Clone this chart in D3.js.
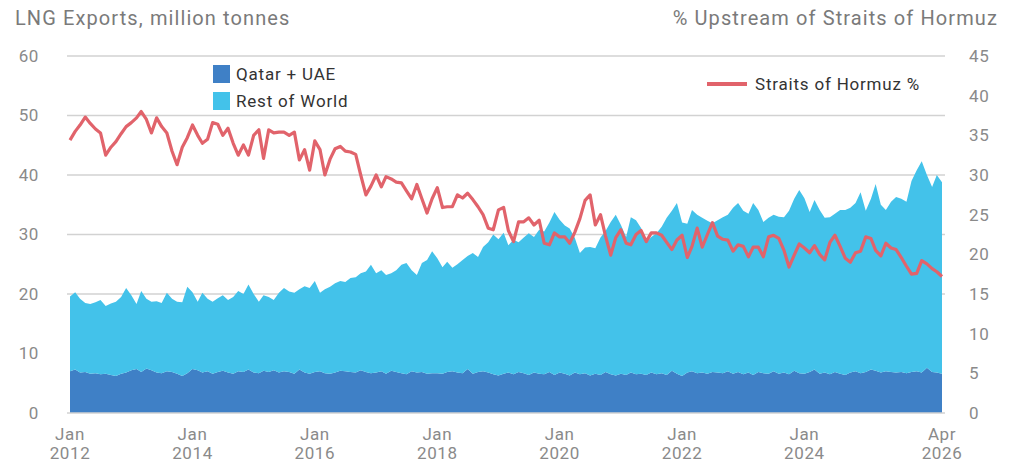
<!DOCTYPE html>
<html>
<head>
<meta charset="utf-8">
<script src="https://cdn.jsdelivr.net/npm/d3@7"></script>
<style>
  body { margin: 0; background: #fff; }
  svg { display: block; font-family: Roboto, "Noto Sans", sans-serif; }
  .title { fill: #7a7a7a; font-size: 20px; letter-spacing: 1.1px; }
  .tick-label { fill: #8a8a8a; font-size: 17px; letter-spacing: 0.6px; }
  .legend text { fill: #333; font-size: 17px; letter-spacing: 0.8px; }
</style>
</head>
<body>
<div id="chart"></div>
<script>
// monthly, Jan 2012 .. Apr 2026
const qatarUae = [
  7.0, 7.3, 6.8, 6.9, 6.6, 6.7, 6.5, 6.6, 6.4, 6.2, 6.6, 6.8,
  7.2, 7.4, 6.9, 7.5, 7.2, 6.8, 6.7, 7.0, 6.9, 6.6, 6.2, 6.7,
  7.4, 7.2, 6.8, 7.0, 6.6, 6.9, 7.1, 6.8, 6.6, 7.0, 6.9, 7.3,
  6.8, 6.7, 7.1, 6.9, 7.2, 6.8, 7.0, 6.9, 6.6, 7.3, 6.8, 6.6,
  6.9, 7.0, 6.7, 6.6, 6.8, 7.1, 7.0, 6.9, 6.8, 7.2, 6.9, 6.7,
  6.8, 7.0, 6.6, 7.1, 6.9, 6.7, 6.5, 7.0, 6.8, 6.9, 6.6, 6.7,
  6.7, 6.6, 6.9, 7.0, 6.8, 6.7, 7.4, 6.6, 6.9, 7.0, 6.8, 6.5,
  6.3, 6.6, 6.8, 6.5, 6.9, 6.7, 6.4, 6.8, 6.6, 6.5, 6.9, 6.4,
  6.8, 6.6, 6.3, 6.8, 6.5, 6.7, 6.3, 6.6, 6.4, 6.9, 6.5, 6.3,
  6.6, 6.4, 6.8, 6.5, 6.6, 6.4, 6.8, 6.5, 6.7, 6.4, 7.1, 6.6,
  6.2, 6.8, 7.0, 6.7, 6.8, 6.6, 6.9, 6.8, 6.7, 7.0, 6.6, 6.9,
  6.5, 6.8, 6.4, 6.9, 6.7, 6.6, 7.0, 6.6, 6.8, 6.5, 7.1, 6.7,
  6.6, 6.9, 7.3, 6.6, 6.8, 6.5, 6.9, 6.6, 6.4, 6.8, 7.0, 6.7,
  6.9, 7.3, 7.1, 6.8, 7.0, 6.9, 6.8, 6.9, 6.7, 6.9, 7.0, 6.8,
  7.6, 6.9, 6.8, 6.6,
];

const restOfWorld = [
  12.6, 13.0, 12.4, 11.6, 11.7, 11.9, 12.5, 11.4, 12.0, 12.5, 12.9, 14.2,
  12.6, 10.9, 13.6, 11.7, 11.5, 12.0, 11.8, 13.2, 12.3, 12.1, 12.4, 14.5,
  12.9, 11.5, 13.4, 12.2, 12.1, 12.4, 12.7, 12.2, 12.9, 13.5, 13.1, 14.3,
  13.2, 12.0, 12.7, 12.6, 11.8, 13.4, 14.0, 13.5, 13.6, 13.5, 14.5, 14.4,
  15.3, 13.2, 14.1, 14.6, 15.0, 15.1, 15.0, 15.8, 16.0, 16.3, 16.9, 18.2,
  16.7, 17.0, 16.6, 16.4, 17.1, 18.2, 18.7, 17.0, 16.4, 18.3, 19.1, 20.5,
  19.3, 17.9, 18.5, 17.4, 18.2, 19.0, 19.0, 20.3, 19.3, 20.9, 21.9, 23.5,
  22.9, 23.7, 21.4, 22.6, 21.8, 22.8, 23.8, 22.8, 24.2, 24.0, 25.1, 27.4,
  25.7, 24.9, 24.7, 22.6, 20.4, 21.1, 21.6, 21.1, 23.1, 23.7, 25.6, 27.0,
  25.0, 23.2, 26.1, 25.9, 24.5, 22.2, 22.8, 23.7, 24.6, 26.4, 26.9, 28.7,
  25.8, 25.0, 27.1, 26.6, 26.0, 25.7, 25.0, 25.6, 26.2, 26.3, 27.9, 28.4,
  27.5, 26.7, 28.9, 27.2, 25.4, 26.2, 26.3, 26.4, 26.1, 27.5, 28.9, 30.8,
  29.5, 26.9, 28.5, 27.5, 26.0, 26.4, 26.6, 27.5, 27.7, 27.7, 28.3, 30.4,
  27.1, 28.7, 31.4, 28.2, 27.1, 28.6, 29.5, 29.1, 28.8, 32.1, 33.8, 35.5,
  32.4, 31.1, 33.2, 32.2,
];

// % upstream of the Straits of Hormuz (right axis)
const hormuzShare = [
  34.4, 35.5, 36.3, 37.3, 36.5, 35.8, 35.3, 32.5, 33.5, 34.2, 35.2, 36.1,
  36.6, 37.2, 38.0, 37.0, 35.3, 37.2, 36.1, 35.3, 33.0, 31.3, 33.5, 34.7,
  36.3, 35.0, 34.0, 34.5, 36.6, 36.4, 35.0, 35.9, 34.0, 32.5, 33.8, 32.5,
  35.0, 35.7, 32.1, 35.7, 35.3, 35.4, 35.4, 35.0, 35.4, 31.9, 33.2, 30.6,
  34.3, 33.2, 30.0, 32.0, 33.3, 33.6, 33.0, 32.9, 32.6, 30.0, 27.5, 28.6,
  30.0, 28.5, 29.8, 29.5, 29.1, 29.0, 28.0, 27.0, 28.8, 27.0, 25.2, 27.0,
  28.4, 25.9, 26.0, 26.0, 27.5, 27.1, 27.7, 26.9, 26.0, 25.0, 23.3, 23.1,
  25.6, 25.9, 23.0, 21.6, 24.1, 24.1, 24.6, 23.7, 24.3, 21.4, 21.2, 22.7,
  22.2, 22.2, 21.4, 22.8, 24.5, 26.8, 27.5, 23.7, 25.0, 22.3, 19.9, 22.1,
  23.1, 21.4, 21.2, 22.5, 23.0, 21.6, 22.7, 22.7, 22.4, 21.5, 20.6, 21.8,
  22.4, 19.6, 21.0, 23.3, 20.9, 22.5, 24.0, 22.3, 21.9, 21.8, 20.4, 21.2,
  21.0, 19.7, 20.9, 20.9, 19.7, 22.2, 22.4, 22.0, 20.5, 18.4, 19.9, 21.3,
  20.8, 20.2, 21.1, 20.0, 19.3, 21.5, 22.4, 21.0, 19.5, 19.0, 20.2, 20.4,
  22.2, 22.0, 20.5, 19.8, 21.4, 20.8, 20.6, 19.6, 18.5, 17.5, 17.6, 19.2,
  18.8, 18.2, 17.8, 17.2,
];

const leftTicks = [0, 10, 20, 30, 40, 50, 60];
const gridTicks = [20, 30, 40, 50, 60];
const rightTicks = [0, 5, 10, 15, 20, 25, 30, 35, 40, 45];
const xTickMonths = ["Jan", "Jan", "Jan", "Jan", "Jan", "Jan", "Jan", "Apr"];
const xTickYears = [2012, 2014, 2016, 2018, 2020, 2022, 2024, 2026];
const xTickMonthIndex = [0, 0, 0, 0, 0, 0, 0, 3];

const darkBlue = "#3f80c6";
const lightBlue = "#43c2ea";
const red = "#e1636b";

const dates = d3.timeMonth.range(new Date(2012, 0, 1), new Date(2026, 4, 1));
const data = dates.map((date, i) => ({
  date,
  qatarUae: qatarUae[i],
  restOfWorld: restOfWorld[i],
  hormuz: hormuzShare[i],
}));

const width = 1022,
  height = 469;
const plot = { left: 70, right: 942, top: 56, bottom: 413 };

const svg = d3
  .select("#chart")
  .append("svg")
  .attr("width", width)
  .attr("height", height);

const xScale = d3
  .scaleTime()
  .domain([dates[0], dates[dates.length - 1]])
  .range([plot.left, plot.right]);
const yLeft = d3.scaleLinear().domain([0, 60]).range([plot.bottom, plot.top]);
const yRight = d3.scaleLinear().domain([0, 45]).range([plot.bottom, plot.top]);

// titles
svg
  .append("text")
  .attr("class", "title")
  .attr("x", 15)
  .attr("y", 25)
  .text("LNG Exports, million tonnes");
svg
  .append("text")
  .attr("class", "title")
  .attr("x", 998)
  .attr("y", 25)
  .attr("text-anchor", "end")
  .text("% Upstream of Straits of Hormuz");

// grid
svg
  .append("g")
  .selectAll("line")
  .data(gridTicks)
  .join("line")
  .attr("x1", plot.left - 3)
  .attr("x2", plot.right + 3)
  .attr("y1", (d) => yLeft(d))
  .attr("y2", (d) => yLeft(d))
  .attr("stroke", "#d2d2d2")
  .attr("stroke-width", 1.5);

// stacked areas
const stack = d3.stack().keys(["qatarUae", "restOfWorld"]);
const series = stack(data);
const area = d3
  .area()
  .x((d) => xScale(d.data.date))
  .y0((d) => yLeft(d[0]))
  .y1((d) => yLeft(d[1]));

svg
  .append("g")
  .selectAll("path")
  .data(series)
  .join("path")
  .attr("fill", (d) => (d.key === "qatarUae" ? darkBlue : lightBlue))
  .attr("d", area);

// baseline
svg
  .append("line")
  .attr("x1", plot.left - 3)
  .attr("x2", plot.right + 3)
  .attr("y1", yLeft(0))
  .attr("y2", yLeft(0))
  .attr("stroke", "#d2d2d2")
  .attr("stroke-width", 1.5);

// hormuz line
const line = d3
  .line()
  .x((d) => xScale(d.date))
  .y((d) => yRight(d.hormuz));

svg
  .append("path")
  .datum(data)
  .attr("fill", "none")
  .attr("stroke", red)
  .attr("stroke-width", 3.2)
  .attr("stroke-linejoin", "round")
  .attr("d", line);

// left axis labels
svg
  .append("g")
  .selectAll("text")
  .data(leftTicks)
  .join("text")
  .attr("class", "tick-label")
  .attr("x", 39)
  .attr("y", (d) => yLeft(d))
  .attr("dy", "0.35em")
  .attr("text-anchor", "end")
  .text((d) => d);

// right axis labels
svg
  .append("g")
  .selectAll("text")
  .data(rightTicks)
  .join("text")
  .attr("class", "tick-label")
  .attr("x", 969)
  .attr("y", (d) => yRight(d))
  .attr("dy", "0.35em")
  .text((d) => d);

// x axis labels, two lines each
const xLabels = svg
  .append("g")
  .selectAll("text")
  .data(xTickYears)
  .join("text")
  .attr("class", "tick-label")
  .attr("text-anchor", "middle")
  .attr("transform", (d, i) => `translate(${xScale(new Date(d, xTickMonthIndex[i], 1))}, 440)`);
xLabels.append("tspan").attr("x", 0).attr("y", 0).text((d, i) => xTickMonths[i]);
xLabels.append("tspan").attr("x", 0).attr("y", 19).text((d) => d);

// legend
const legend = svg.append("g").attr("class", "legend");
const legendItems = [
  { label: "Qatar + UAE", color: darkBlue, y: 74 },
  { label: "Rest of World", color: lightBlue, y: 101 },
];
const legendRows = legend
  .selectAll("g")
  .data(legendItems)
  .join("g")
  .attr("transform", (d) => `translate(213, ${d.y})`);
legendRows
  .append("rect")
  .attr("y", -9)
  .attr("width", 17)
  .attr("height", 18)
  .attr("fill", (d) => d.color);
legendRows
  .append("text")
  .attr("x", 23)
  .attr("dy", "0.35em")
  .text((d) => d.label);

const lineLegend = legend.append("g").attr("transform", "translate(707, 84)");
lineLegend
  .append("line")
  .attr("x1", 0)
  .attr("x2", 40)
  .attr("stroke", red)
  .attr("stroke-width", 4);
lineLegend
  .append("text")
  .attr("x", 48)
  .attr("dy", "0.35em")
  .text("Straits of Hormuz %");
</script>
</body>
</html>
